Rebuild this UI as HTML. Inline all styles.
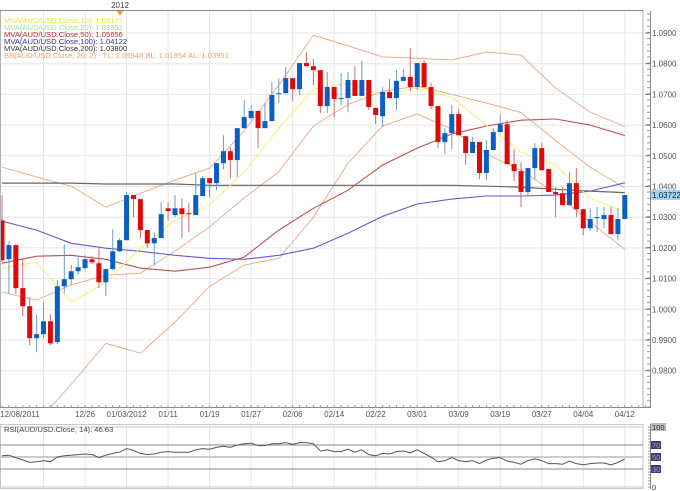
<!DOCTYPE html>
<html><head><meta charset="utf-8"><style>
html,body{margin:0;padding:0;background:#fff;}
svg{display:block;font-family:"Liberation Sans",sans-serif;}
</style></head><body>
<svg id="chart" width="680" height="491" viewBox="0 0 680 491" xmlns="http://www.w3.org/2000/svg">
<defs><clipPath id="plotClip"><rect x="0" y="11" width="643" height="396"/></clipPath>
<clipPath id="rsiClip"><rect x="0" y="424" width="643" height="65"/></clipPath></defs>
<rect x="0" y="0" width="680" height="491" fill="#fff"/>
<g id="grid"></g>
<g id="lines" clip-path="url(#plotClip)"></g>
<g id="candles" clip-path="url(#plotClip)"></g>
<g id="axes"></g>
<g id="rsi"></g>
<g font-size="7.6">
<text x="4" y="23" fill="#e8e830">MVA(AUD/USD.Close,10): 1.03177</text>
<text x="4" y="30" fill="#90e890">MVA(AUD/USD.Close,20): 1.03951</text>
<text x="4" y="37" fill="#c03030">MVA(AUD/USD.Close,50): 1.05656</text>
<text x="4" y="44" fill="#3030b0">MVA(AUD/USD.Close,100): 1.04122</text>
<text x="4" y="51" fill="#333">MVA(AUD/USD.Close,200): 1.03800</text>
<text x="4" y="58" fill="#e8a070">BB(AUD/USD.Close, 20, 2) -  TL: 1.05948  BL: 1.01954  AL: 1.03951</text>
</g>
<text x="120" y="8" font-size="8" fill="#444" text-anchor="middle">2012</text>
<path d="M117,11 L123,11 L120,16 Z" fill="#f0a020"/>
<text x="4" y="432" font-size="7.6" fill="#444">RSI(AUD/USD.Close, 14): 46.63</text>
</svg>
<script>
const open=[1.0290,1.0163,1.0209,1.0069,1.0010,0.9906,0.9919,0.9961,0.9893,1.0075,1.0098,1.0124,1.0134,1.0163,1.0150,1.0088,1.0131,1.0189,1.0225,1.0372,1.0359,1.0258,1.0215,1.0232,1.0329,1.0307,1.0329,1.0313,1.0307,1.0369,1.0427,1.0411,1.0476,1.0515,1.0486,1.0590,1.0623,1.0646,1.0590,1.0613,1.0701,1.0704,1.0753,1.0717,1.0802,1.0792,1.0779,1.0662,1.0724,1.0685,1.0688,1.0747,1.0695,1.0747,1.0656,1.0629,1.0708,1.0688,1.0744,1.0757,1.0724,1.0802,1.0724,1.0662,1.0545,1.0574,1.0636,1.0564,1.0509,1.0545,1.0444,1.0519,1.0577,1.0603,1.0473,1.0450,1.0382,1.0460,1.0525,1.0457,1.0382,1.0378,1.0339,1.0411,1.0326,1.0264,1.0297,1.0294,1.0307,1.0245,1.0294];
const high=[1.0372,1.0222,1.0212,1.0166,1.0039,0.9984,1.0023,0.9984,1.0095,1.0212,1.0144,1.0176,1.0176,1.0173,1.0199,1.0134,1.0261,1.0232,1.0382,1.0372,1.0359,1.0258,1.0251,1.0349,1.0349,1.0372,1.0362,1.0346,1.0444,1.0434,1.0427,1.0476,1.0567,1.0528,1.0590,1.0682,1.0665,1.0646,1.0672,1.0740,1.0753,1.0789,1.0753,1.0802,1.0838,1.0815,1.0779,1.0773,1.0724,1.0770,1.0773,1.0792,1.0809,1.0747,1.0656,1.0724,1.0750,1.0779,1.0783,1.0851,1.0802,1.0812,1.0737,1.0662,1.0590,1.0665,1.0652,1.0564,1.0561,1.0545,1.0551,1.0590,1.0633,1.0616,1.0522,1.0479,1.0460,1.0541,1.0541,1.0457,1.0398,1.0398,1.0447,1.0460,1.0326,1.0329,1.0333,1.0333,1.0333,1.0329,1.0372];
const low=[1.0153,1.0052,1.0049,0.9977,0.9883,0.9860,0.9906,0.9883,0.9886,1.0052,1.0078,1.0111,1.0127,1.0147,1.0069,1.0043,1.0127,1.0186,1.0225,1.0300,1.0232,1.0199,1.0144,1.0232,1.0290,1.0300,1.0232,1.0251,1.0307,1.0369,1.0365,1.0388,1.0457,1.0427,1.0431,1.0590,1.0616,1.0525,1.0590,1.0613,1.0672,1.0704,1.0678,1.0698,1.0792,1.0730,1.0639,1.0639,1.0626,1.0665,1.0642,1.0695,1.0695,1.0649,1.0603,1.0594,1.0688,1.0649,1.0744,1.0711,1.0714,1.0724,1.0652,1.0525,1.0506,1.0522,1.0567,1.0470,1.0509,1.0424,1.0421,1.0519,1.0577,1.0473,1.0418,1.0333,1.0369,1.0424,1.0453,1.0382,1.0300,1.0339,1.0339,1.0300,1.0241,1.0255,1.0251,1.0264,1.0245,1.0225,1.0294];
const close=[1.0160,1.0209,1.0069,1.0010,0.9906,0.9919,0.9961,0.9889,1.0075,1.0098,1.0124,1.0137,1.0163,1.0153,1.0088,1.0131,1.0189,1.0225,1.0372,1.0359,1.0258,1.0215,1.0232,1.0310,1.0320,1.0329,1.0310,1.0310,1.0372,1.0427,1.0411,1.0476,1.0515,1.0486,1.0590,1.0626,1.0646,1.0590,1.0613,1.0698,1.0704,1.0753,1.0717,1.0802,1.0792,1.0779,1.0662,1.0724,1.0685,1.0688,1.0747,1.0695,1.0747,1.0659,1.0633,1.0708,1.0688,1.0744,1.0757,1.0724,1.0802,1.0724,1.0662,1.0545,1.0574,1.0636,1.0567,1.0509,1.0545,1.0444,1.0519,1.0577,1.0603,1.0473,1.0450,1.0382,1.0460,1.0525,1.0453,1.0382,1.0375,1.0339,1.0411,1.0326,1.0264,1.0294,1.0300,1.0307,1.0245,1.0294,1.0372];
const lineIdx=[0,5,10,15,20,25,30,35,40,45,50,55,60,65,70,75,80,85,90];
const ma10=[1.0134,1.0153,1.0023,1.0088,1.0199,1.0290,1.0339,1.0447,1.0590,1.0717,1.0737,1.0698,1.0721,1.0691,1.0600,1.0512,1.0470,1.0362,1.0318];
const ma50=[1.0150,1.0173,1.0176,1.0163,1.0134,1.0124,1.0137,1.0170,1.0258,1.0329,1.0388,1.0470,1.0525,1.0571,1.0597,1.0616,1.0620,1.0600,1.0566];
const ma100=[1.0287,1.0258,1.0215,1.0199,1.0189,1.0176,1.0166,1.0163,1.0176,1.0199,1.0248,1.0303,1.0343,1.0359,1.0369,1.0369,1.0372,1.0385,1.0412];
const ma200=[1.0411,1.0411,1.0411,1.0408,1.0408,1.0408,1.0404,1.0404,1.0404,1.0404,1.0404,1.0404,1.0404,1.0404,1.0401,1.0398,1.0391,1.0385,1.0380];
const bbUpper=[1.0463,1.0431,1.0401,1.0333,1.0378,1.0421,1.0460,1.0581,1.0730,1.0893,1.0858,1.0822,1.0818,1.0812,1.0838,1.0828,1.0721,1.0642,1.0595];
const bbMid=[1.0056,1.0030,1.0079,1.0111,1.0118,1.0190,1.0268,1.0363,1.0448,1.0597,1.0667,1.0710,1.0727,1.0700,1.0672,1.0641,1.0550,1.0463,1.0395];
const bbLower=[0.9648,0.9629,0.9756,0.9889,0.9857,0.9958,1.0075,1.0144,1.0166,1.0300,1.0476,1.0597,1.0636,1.0587,1.0506,1.0453,1.0378,1.0284,1.0195];
const rsi=[52,53,49,45,41,42,44,42,50,52,53,54,55,54,49,53,56,58,64,61,56,54,55,58,59,58,58,58,62,64,63,66,68,66,70,72,73,69,69,72,72,74,71,74,74,72,60,62,59,59,63,58,62,54,52,56,55,59,60,57,62,56,50,42,44,49,44,42,44,39,45,48,49,43,41,38,44,47,44,39,39,38,43,39,37,39,40,40,37,41,47];
const priceTicks=[1.09,1.08,1.07,1.06,1.05,1.04,1.03,1.02,1.01,1.00,0.99,0.98];
const dateLabels=["12/26","01/03/2012","01/11","01/19","01/27","02/06","02/14","02/22","03/01","03/09","03/19","03/27","04/04","04/12"];
const dateIdx=[12,18,24,30,36,42,48,54,60,66,72,78,84,90];
const rsiTicks=[100,70,50,30,0];
const lastPrice=1.03722;

const NS="http://www.w3.org/2000/svg";
const xI=i=>2+i*6.92;
const yP=p=>33+(1.09-p)*3070;
const yR=v=>487-v*0.6;
function mk(parent,tag,attrs){const e=document.createElementNS(NS,tag);for(const k in attrs)e.setAttribute(k,attrs[k]);parent.appendChild(e);return e;}
const grid=document.getElementById('grid'),lines=document.getElementById('lines'),cg=document.getElementById('candles'),axes=document.getElementById('axes'),rg=document.getElementById('rsi');

// grid
priceTicks.forEach(p=>{const l=mk(grid,'line',{x1:0,x2:643,y1:yP(p),y2:yP(p),stroke:'#e6e6e6','stroke-width':1});

});
[6].concat(dateIdx).forEach(i=>{const x=xI(i);
const l=mk(grid,'line',{x1:x,x2:x,y1:11,y2:407,stroke:'#e6e6e6'});


const l2=mk(grid,'line',{x1:x,x2:x,y1:424,y2:489,stroke:'#e6e6e6'});

});

// frames
const fr=mk(axes,'rect',{x:0.5,y:10.5,width:642.5,height:397,fill:'none',stroke:'#b0b0b0'});


const pax=mk(axes,'line',{x1:650.5,x2:650.5,y1:11,y2:408,stroke:'#888'});


for(let y=14;y<407;y+=6.14){const t=mk(axes,'line',{x1:647,x2:650,y1:y,y2:y,stroke:'#999'});

}
priceTicks.forEach(p=>{const y=yP(p);
const t=mk(axes,'line',{x1:645,x2:651,y1:y,y2:y,stroke:'#777'});


const tx=mk(axes,'text',{x:652,y:y+3,'font-size':8,fill:'#555'});
tx.textContent=p.toFixed(4);

});
// top strip
const ts=mk(axes,'line',{x1:0,x2:643,y1:10.5,y2:10.5,stroke:'#888'});


// x axis
const xa=mk(axes,'line',{x1:0,x2:650,y1:407.5,y2:407.5,stroke:'#888'});


for(let i=0;i<=93;i++){const t=mk(axes,'line',{x1:xI(i),x2:xI(i),y1:405,y2:408,stroke:'#999'});

}
const d0=mk(axes,'text',{x:0,y:417,'font-size':8,fill:'#555'});
d0.textContent='12/08/2011';


dateLabels.forEach((s,k)=>{const t=mk(axes,'text',{x:xI(dateIdx[k]),y:417,'font-size':8,fill:'#555','text-anchor':'middle'});
t.textContent=s;

});

// indicator lines
function poly(vals,color,w,name){const pts=vals.map((v,k)=>xI(lineIdx[k]).toFixed(1)+','+yP(v).toFixed(1)).join(' ');
const p=mk(lines,'polyline',{points:pts,fill:'none',stroke:color,'stroke-width':w,'stroke-linejoin':'round'});

}
poly(bbUpper,'#e8b090',1,'bb-upper-line');
poly(bbMid,'#e8b090',1,'bb-middle-line');
poly(bbLower,'#e8b090',1,'bb-lower-line');
poly(ma200,'#666',1.2,'ma200-line');
poly(ma100,'#6a5acd',1.1,'ma100-line');
poly(ma50,'#c05050',1.1,'ma50-line');
poly(ma10,'#f4f070',1,'ma10-line');

// candles
close.forEach((c,i)=>{const o=open[i],up=c>=o,x=xI(i);
const w=mk(cg,'line',{x1:x,x2:x,y1:yP(high[i]),y2:yP(low[i]),stroke:up?'#6a9cc8':'#c87070','stroke-width':1});


const t=yP(Math.max(o,c)),b=yP(Math.min(o,c));
const r=mk(cg,'rect',{x:x-2.5,y:t,width:5,height:Math.max(1,b-t),fill:up?'#0a5fc0':'#dd0a0a'});

});

// last price tag
const ly=yP(lastPrice);
const lt=mk(axes,'rect',{x:651,y:ly-5,width:29,height:10,fill:'#9fd6f2'});


const ltt=mk(axes,'text',{x:652,y:ly+3,'font-size':8,fill:'#223'});
ltt.textContent=lastPrice.toFixed(5);



// RSI panel
const rf=mk(rg,'rect',{x:0.5,y:424.5,width:642.5,height:64,fill:'none',stroke:'#c8c8c8'});


[100,0].forEach(v=>{const l=mk(rg,'line',{x1:0,x2:643,y1:yR(v),y2:yR(v),stroke:'#c8c8c8'});

});
[70,30].forEach(v=>{const l=mk(rg,'line',{x1:0,x2:643,y1:yR(v),y2:yR(v),stroke:'#888','stroke-width':1});

});
const m50=mk(rg,'line',{x1:0,x2:643,y1:yR(50),y2:yR(50),stroke:'#ccc','stroke-width':2});


const rax=mk(rg,'line',{x1:650.5,x2:650.5,y1:424,y2:489,stroke:'#888'});


for(let y=427;y<=487;y+=3){const t=mk(rg,'line',{x1:648,x2:650,y1:y,y2:y,stroke:'#999'});

}
rsiTicks.forEach(v=>{const y=yR(v),dark=(v===70||v===50||v===30);
const bw=v===100?15:(v===0?7:10);
const b=mk(rg,'rect',{x:651,y:y-4,width:bw,height:8,fill:dark?'#3c3c6e':(v===100?'#bbb':'#fff')});


const t=mk(rg,'text',{x:652,y:y+3,'font-size':7.5,fill:dark?'#9fa8e0':'#333'});
t.textContent=String(v);

});
const rp=mk(rg,'polyline',{points:rsi.map((v,i)=>xI(i).toFixed(1)+','+yR(v).toFixed(1)).join(' '),fill:'none',stroke:'#555','stroke-width':1,'clip-path':'url(#rsiClip)'});


</script>
</body></html>
